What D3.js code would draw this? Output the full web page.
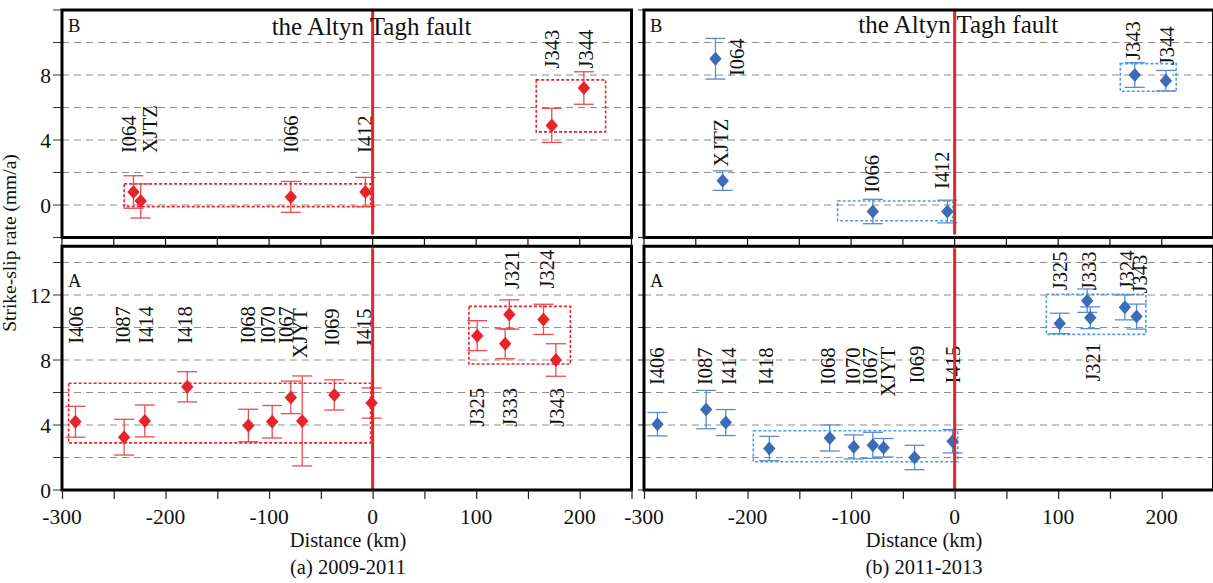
<!DOCTYPE html>
<html>
<head>
<meta charset="utf-8">
<script src="https://cdn.jsdelivr.net/npm/d3@7"></script>
<style>
  html, body { margin: 0; padding: 0; background: #fff; }
  svg { display: block; }
  text { font-family: "Liberation Serif", "Times New Roman", "DejaVu Serif", serif; fill: #111; }
</style>
</head>
<body>
<svg id="chart" width="1213" height="583"></svg>
<script>
// ---------------- DATA ----------------
const xTickLabels = [-300, -200, -100, 0, 100, 200];
const xMinorTicks = [-300, -250, -200, -150, -100, -50, 0, 50, 100, 150, 200, 250];
const yTickLabelsB = [0, 4, 8];
const yTickLabelsA = [0, 4, 8, 12];
const yGridB = [0, 2, 4, 6, 8, 10];
const yGridA = [2, 4, 6, 8, 10, 12, 14];

// (a) 2009-2011, zone B
const aB_names = ["I064", "XJTZ", "I066", "I412", "J343", "J344"];
const aB_dist  = [-231, -224, -79, -7, 173, 204];
const aB_rate  = [0.8, 0.25, 0.5, 0.8, 4.9, 7.2];
const aB_err   = [1.0, 1.05, 0.95, 0.9, 1.05, 1.0];
const aB_labDist = [-235, -215, -79, -8, 173, 206];
const aB_labRate = [3.2, 3.2, 3.2, 3.2, 8.4, 8.4];
const aB_boxes = [[-240, -2, 1.3, -0.1], [158, 225, 7.7, 4.5]];

// (a) 2009-2011, zone A
const aA_names = ["I406", "I087", "I414", "I418", "I068", "I070", "I067", "XJYT", "I069", "I415", "J325", "J333", "J321", "J324", "J343"];
const aA_dist  = [-287, -240, -220, -179, -120, -97, -79, -68, -37, -1, 101, 128, 132, 165, 177];
const aA_rate  = [4.2, 3.25, 4.25, 6.35, 3.97, 4.2, 5.7, 4.25, 5.85, 5.35, 9.5, 9.0, 10.8, 10.5, 8.0];
const aA_err   = [0.95, 1.1, 0.98, 0.93, 1.0, 1.0, 1.0, 2.77, 0.93, 0.93, 0.92, 0.92, 0.9, 0.93, 1.0];
const aA_labDist = [-287, -241, -219, -181, -121, -101, -84, -70, -39, -9, 101, 132, 134, 168, 178];
const aA_labRate = [9.0, 9.0, 9.0, 9.0, 9.0, 9.0, 9.0, 8.1, 8.86, 8.86, 3.9, 3.9, 12.37, 12.4, 3.9];
const aA_boxes = [[-293.6, -2, 6.57, 2.9], [93, 191, 11.3, 7.75]];

// (b) 2011-2013, zone B
const bB_names = ["I064", "XJTZ", "I066", "I412", "J343", "J344"];
const bB_dist  = [-231, -224, -79, -7, 174, 204];
const bB_rate  = [9.0, 1.5, -0.4, -0.4, 8.0, 7.65];
const bB_err   = [1.25, 0.6, 0.75, 0.7, 0.76, 0.63];
const bB_labDist = [-210, -226, -80, -12, 172, 205];
const bB_labRate = [7.94, 2.36, 0.76, 0.98, 8.92, 8.6];
const bB_boxes = [[-113, -1.6, 0.25, -0.97], [160, 214, 8.7, 7.0]];

// (b) 2011-2013, zone A
const bA_names = ["I406", "I087", "I414", "I418", "I068", "I070", "I067", "XJYT", "I069", "I415", "J325", "J333", "J321", "J324", "J343"];
const bA_dist  = [-287, -240, -221, -179, -120.6, -97.4, -79, -68.6, -38.7, -2, 101.5, 128, 131, 164.4, 175.7];
const bA_rate  = [4.05, 4.95, 4.15, 2.55, 3.2, 2.65, 2.75, 2.6, 2.0, 3.0, 10.25, 11.65, 10.6, 11.24, 10.67];
const bA_err   = [0.72, 1.18, 0.8, 0.75, 0.8, 0.74, 0.8, 0.57, 0.75, 0.72, 0.63, 0.72, 0.67, 0.77, 0.77];
const bA_labDist = [-288, -241, -218, -182, -122, -98, -82, -64.5, -37, -1.6, 101.5, 129.6, 133.7, 166, 179];
const bA_labRate = [6.46, 6.46, 6.46, 6.46, 6.46, 6.46, 6.46, 5.74, 6.56, 6.56, 12.3, 12.3, 6.67, 12.35, 12.1];
const bA_boxes = [[-194.4, 3, 3.65, 1.74], [88.6, 184.7, 12.04, 9.58]];

const faultTitle = "the Altyn Tagh fault";
const yAxisTitle = "Strike-slip rate (mm/a)";
const xAxisTitle = "Distance (km)";
const captions = ["(a) 2009-2011", "(b) 2011-2013"];

// ---------------- LAYOUT ----------------
const svg = d3.select("#chart");
const xDomain = [-300, 250];
const topRange = [237.5, 10];   // y for -2 .. 12
const botRange = [490, 246.25]; // y for 0 .. 15
const yB = d3.scaleLinear().domain([-2, 12]).range(topRange);
const yA = d3.scaleLinear().domain([0, 15]).range(botRange);

const panels = [
  { x0: 62, x1: 631.5, color: "#e8232a", errColor: "#ec4a4e", boxColor: "#e8232a",
    B: { names: aB_names, dist: aB_dist, rate: aB_rate, err: aB_err, ld: aB_labDist, lr: aB_labRate, boxes: aB_boxes },
    A: { names: aA_names, dist: aA_dist, rate: aA_rate, err: aA_err, ld: aA_labDist, lr: aA_labRate, boxes: aA_boxes },
    titleAt: -97.5, titleY: 35, yLabels: true, caption: captions[0], capX: 348 },
  { x0: 644, x1: 1213.5, color: "#3a6cb8", errColor: "#5a8bd0", boxColor: "#4a9fdc",
    B: { names: bB_names, dist: bB_dist, rate: bB_rate, err: bB_err, ld: bB_labDist, lr: bB_labRate, boxes: bB_boxes },
    A: { names: bA_names, dist: bA_dist, rate: bA_rate, err: bA_err, ld: bA_labDist, lr: bA_labRate, boxes: bA_boxes },
    titleAt: -93, titleY: 33, yLabels: false, caption: captions[1], capX: 924 }
];

function drawZone(g, x, y, zone, gridVals, yTicksAll, labelVals, p, x0, x1) {
  // grid
  g.selectAll(null).data(gridVals).join("line")
    .attr("x1", x0).attr("x2", x1)
    .attr("y1", d => y(d)).attr("y2", d => y(d))
    .attr("stroke", "#958b8b").attr("stroke-width", 1.2).attr("stroke-dasharray", "7,5");
  // y ticks (outside left)
  const tl = p.yLabels ? 9 : 6;
  g.selectAll(null).data(yTicksAll).join("line")
    .attr("x1", x0 - tl).attr("x2", x0)
    .attr("y1", d => y(d)).attr("y2", d => y(d))
    .attr("stroke", "#333").attr("stroke-width", 1);
  if (p.yLabels) {
    g.selectAll(null).data(labelVals).join("text")
      .attr("x", x0 - 11).attr("y", d => y(d)).attr("dy", "0.35em")
      .attr("text-anchor", "end").attr("font-size", 21.5).text(d => d);
  }
  // dotted boxes
  g.selectAll(null).data(zone.boxes).join("rect")
    .attr("x", d => x(d[0])).attr("width", d => x(d[1]) - x(d[0]))
    .attr("y", d => y(d[2])).attr("height", d => y(d[3]) - y(d[2]))
    .attr("fill", "none").attr("stroke", p.boxColor).attr("stroke-width", 1.6)
    .attr("stroke-dasharray", "3,2");
  const idx = d3.range(zone.names.length);
  // error bars
  const eb = g.append("g").attr("stroke", p.errColor).attr("stroke-width", 1.3);
  eb.selectAll(null).data(idx).join("line")
    .attr("x1", i => x(zone.dist[i])).attr("x2", i => x(zone.dist[i]))
    .attr("y1", i => y(zone.rate[i] + zone.err[i])).attr("y2", i => y(zone.rate[i] - zone.err[i]));
  [1, -1].forEach(s => {
    eb.selectAll(null).data(idx).join("line")
      .attr("x1", i => x(zone.dist[i]) - 10).attr("x2", i => x(zone.dist[i]) + 10)
      .attr("y1", i => y(zone.rate[i] + s * zone.err[i])).attr("y2", i => y(zone.rate[i] + s * zone.err[i]));
  });
  // diamonds
  g.selectAll(null).data(idx).join("path")
    .attr("d", i => {
      const cx = x(zone.dist[i]), cy = y(zone.rate[i]);
      return `M${cx},${cy - 7}L${cx + 6.2},${cy}L${cx},${cy + 7}L${cx - 6.2},${cy}Z`;
    })
    .attr("fill", p.color);
  // station labels
  g.selectAll(null).data(idx).join("text")
    .attr("transform", i => `translate(${x(zone.ld[i])},${y(zone.lr[i])}) rotate(-90)`)
    .attr("dy", "0.35em").attr("text-anchor", "start").attr("font-size", 20.5)
    .text(i => zone.names[i]);
}

panels.forEach(p => {
  const x = d3.scaleLinear().domain(xDomain).range([p.x0, p.x1]);
  const g = svg.append("g");
  const gB = g.append("g"), gA = g.append("g");
  drawZone(gB, x, yB, p.B, yGridB, [-2, 0, 2, 4, 6, 8, 10, 12], yTickLabelsB, p, p.x0, p.x1);
  drawZone(gA, x, yA, p.A, yGridA, [0, 2, 4, 6, 8, 10, 12, 14], yTickLabelsA, p, p.x0, p.x1);

  // fault line
  g.selectAll(null).data([[yB.range()[1], yB.range()[0] - 3], [yA.range()[1] + 2, yA.range()[0]]]).join("line")
    .attr("x1", x(0)).attr("x2", x(0)).attr("y1", d => d[0]).attr("y2", d => d[1])
    .attr("stroke", "#e8232a").attr("stroke-width", 3);

  // frames
  [yB, yA].forEach(y => {
    const r = y.range();
    g.append("rect").attr("x", p.x0).attr("y", r[1]).attr("width", p.x1 - p.x0).attr("height", r[0] - r[1])
      .attr("fill", "none").attr("stroke", "#000").attr("stroke-width", 3);
  });

  // ticks between top and bottom zones
  g.selectAll(null).data(xMinorTicks).join("line")
    .attr("x1", d => x(d)).attr("x2", d => x(d))
    .attr("y1", yB.range()[0]).attr("y2", yA.range()[1])
    .attr("stroke", "#111").attr("stroke-width", 1.2);

  // bottom x axis
  const axis = d3.axisBottom(x).tickValues(xMinorTicks).tickSize(9).tickFormat("");
  const ax = g.append("g").attr("transform", `translate(0,${yA.range()[0]})`).call(axis);
  ax.select(".domain").remove();
  ax.selectAll(".tick line").attr("stroke", "#222").attr("stroke-width", 1.2);
  g.selectAll(null).data(xTickLabels).join("text")
    .attr("x", d => x(d)).attr("y", 524).attr("text-anchor", "middle").attr("font-size", 21.5)
    .text(d => d);

  // zone letters and title
  g.append("text").attr("x", p.x0 + 6).attr("y", 32).attr("font-size", 18.5).text("B");
  g.append("text").attr("x", p.x0 + 6).attr("y", 287).attr("font-size", 18.5).text("A");
  g.append("text").attr("x", x(p.titleAt)).attr("y", p.titleY).attr("font-size", 25).text(faultTitle);

  // axis titles
  g.append("text").attr("x", p.capX).attr("y", 547).attr("text-anchor", "middle").attr("font-size", 20.5).text(xAxisTitle);
  g.append("text").attr("x", p.capX).attr("y", 574).attr("text-anchor", "middle").attr("font-size", 20.5).text(p.caption);
});

svg.append("text")
  .attr("transform", "translate(9,243) rotate(-90)")
  .attr("dy", "0.35em").attr("text-anchor", "middle").attr("font-size", 19.5)
  .text(yAxisTitle);
</script>
</body>
</html>
